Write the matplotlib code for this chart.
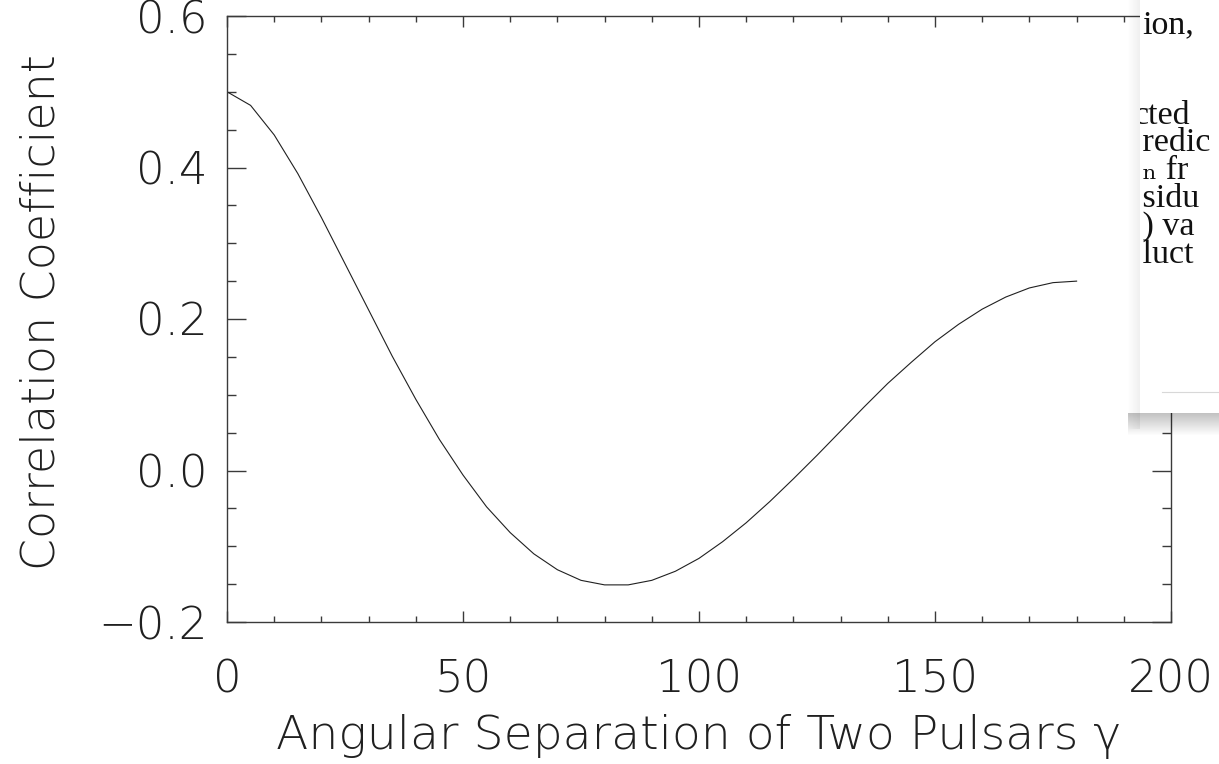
import matplotlib
matplotlib.use("Agg")
import matplotlib.pyplot as plt
from matplotlib.patches import Rectangle
from matplotlib.ticker import MultipleLocator, FuncFormatter

W, H, DPI = 1219, 764, 100

# curve, every 5 degrees
gamma = [0, 5, 10, 15, 20, 25, 30, 35, 40, 45, 50, 55, 60, 65, 70, 75, 80, 85, 90,
         95, 100, 105, 110, 115, 120, 125, 130, 135, 140, 145, 150, 155, 160, 165,
         170, 175, 180]
corr = [0.500, 0.482, 0.443, 0.392, 0.334, 0.273, 0.212, 0.151, 0.094, 0.041,
        -0.006, -0.048, -0.082, -0.110, -0.131, -0.145, -0.151, -0.151, -0.145,
        -0.133, -0.116, -0.094, -0.069, -0.041, -0.011, 0.020, 0.052, 0.084,
        0.115, 0.143, 0.170, 0.193, 0.213, 0.229, 0.241, 0.248, 0.250]

x_ticks = [0, 50, 100, 150, 200]
y_ticks = [-0.2, 0.0, 0.2, 0.4, 0.6]
x_label = "Angular Separation of Two Pulsars γ"
y_label = "Correlation Coefficient"

# fragments of the page that covers the top right corner
note_first = "ion,"
note_rest = ["cted", " redic", " ₙ fr", " sidu", " ) va", " luct"]

ink = "#3a3a3a"
sans = dict(family="DejaVu Sans", weight="light")

fig = plt.figure(figsize=(W / DPI, H / DPI), dpi=DPI)
ax = fig.add_axes([227 / W, 1 - 622 / H, (1171 - 227) / W, (622 - 16) / H])

ax.plot(gamma, corr, color="#202020", lw=0.8)
ax.set_xlim(0, 200)
ax.set_ylim(-0.2, 0.6)
ax.set_xticks(x_ticks)
ax.set_yticks(y_ticks)
ax.xaxis.set_minor_locator(MultipleLocator(10))
ax.yaxis.set_minor_locator(MultipleLocator(0.05))
ax.yaxis.set_major_formatter(FuncFormatter(lambda v, p: f"{v:.1f}".replace("-", "\u2212")))

for s in ax.spines.values():
    s.set_color(ink)
    s.set_linewidth(1.0)
ax.tick_params(which="both", direction="in", top=True, right=True, color=ink, width=1.0)
ax.tick_params(axis="x", which="major", length=8, pad=26)
ax.tick_params(axis="x", which="minor", length=4.3)
ax.tick_params(axis="y", which="major", length=13.7, pad=14)
ax.tick_params(axis="y", which="minor", length=6.5)
for lab in ax.get_xticklabels() + ax.get_yticklabels():
    lab.set_fontsize(32.5)
    lab.set_fontfamily(sans["family"])
    lab.set_fontweight(sans["weight"])
    lab.set_color("#202020")

ax.set_xlabel(x_label, fontsize=34, color="#202020", **sans)
ax.set_ylabel(y_label, fontsize=33, color="#202020", **sans)
ax.xaxis.set_label_coords(0.5, (622 - 714) / 606)
ax.yaxis.set_label_coords((64 - 227) / 944, (622 - 312) / 606)

# drop shadow of the overlapping page
bx0, by1 = 1140, 413
for i in range(12):
    a = 0.06 * (1 - i / 12)
    fig.add_artist(Rectangle(((bx0 - 1 - i) / W, 1 - (by1 + 16) / H), 1 / W, (by1 + 16) / H,
                             transform=fig.transFigure, color="k", alpha=a, lw=0, zorder=1))
for i in range(22):
    a = 0.24 * (1 - i / 22)
    fig.add_artist(Rectangle(((bx0 - 12) / W, 1 - (by1 + 1 + i) / H), (W - bx0 + 12) / W, 1 / H,
                             transform=fig.transFigure, color="k", alpha=a, lw=0, zorder=1))

bx = fig.add_axes([bx0 / W, 1 - by1 / H, (W - bx0) / W, by1 / H], zorder=2)
bx.set_facecolor("white")
bx.set_xticks([])
bx.set_yticks([])
for s in bx.spines.values():
    s.set_visible(False)
bx.set_xlim(bx0, W)
bx.set_ylim(by1, 0)

serif = dict(family=["Liberation Serif", "DejaVu Serif"], fontsize=24.5,
             color="#111111", clip_on=True)
bx.text(1142, 33, note_first, va="baseline", **serif)
bx.text(1133.5, 100, "\n".join(note_rest), va="top", ha="left", linespacing=0.89, **serif)
bx.plot([1162, W], [392, 392], color="#d8d8d8", lw=0.8)

fig.savefig("out.png", dpi=DPI)
